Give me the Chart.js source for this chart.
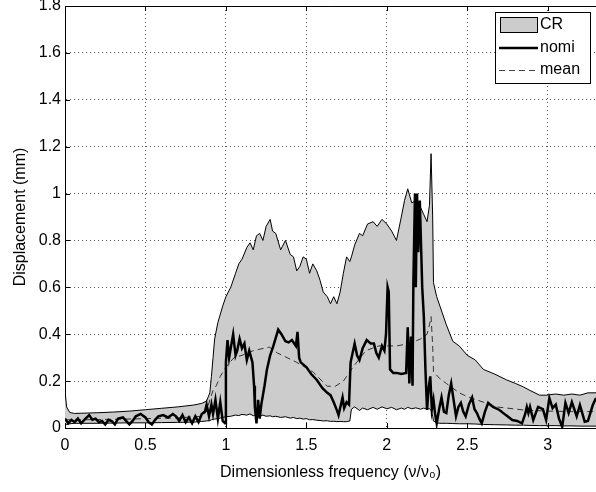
<!DOCTYPE html>
<html>
<head>
<meta charset="utf-8">
<script src="https://cdn.jsdelivr.net/npm/chart.js@4.4.0/dist/chart.umd.min.js"></script>
<style>
  html, body { margin: 0; padding: 0; background: #fff; }
  canvas { display: block; }
</style>
</head>
<body>
<canvas id="chart" width="596" height="492" style="width:596px;height:492px"></canvas>
<script>
// Ticks
const xTicks = [0, 0.5, 1, 1.5, 2, 2.5, 3];
const yTicks = [0, 0.2, 0.4, 0.6, 0.8, 1, 1.2, 1.4, 1.6, 1.8];

// CR envelope (upper / lower share the same frequencies)
const crFreq = [0, 0.01, 0.03, 0.06, 0.1, 0.2, 0.3, 0.4, 0.5, 0.6, 0.7, 0.8, 0.85, 0.88, 0.9, 0.91, 0.92, 0.93, 0.95, 0.98,
  1.0, 1.03, 1.06, 1.08, 1.1, 1.13, 1.15, 1.17, 1.19, 1.21, 1.23, 1.25, 1.275, 1.29, 1.31, 1.34, 1.37, 1.40, 1.42, 1.44,
  1.46, 1.48, 1.50, 1.52, 1.54, 1.565, 1.585, 1.605, 1.63, 1.65, 1.67, 1.69, 1.71, 1.73, 1.75, 1.77, 1.78, 1.8, 1.83, 1.85,
  1.88, 1.915, 1.94, 1.97, 2.0, 2.03, 2.06, 2.09, 2.11, 2.13, 2.155, 2.18, 2.21, 2.23, 2.25, 2.265, 2.275, 2.285, 2.29, 2.31,
  2.33, 2.37, 2.41, 2.45, 2.5, 2.55, 2.6, 2.67, 2.745, 2.8, 2.85, 2.89, 2.95, 2.99, 3.05, 3.1, 3.15, 3.2, 3.25, 3.3];
const crUpper = [0.16, 0.09, 0.066, 0.062, 0.063, 0.065, 0.068, 0.072, 0.078, 0.084, 0.09, 0.098, 0.105, 0.115, 0.15, 0.22, 0.30, 0.38, 0.45, 0.52,
  0.56, 0.60, 0.66, 0.70, 0.72, 0.77, 0.79, 0.76, 0.82, 0.83, 0.80, 0.86, 0.89, 0.84, 0.83, 0.76, 0.80, 0.74, 0.73, 0.67,
  0.69, 0.73, 0.72, 0.66, 0.70, 0.67, 0.63, 0.58, 0.56, 0.53, 0.56, 0.53, 0.58, 0.66, 0.73, 0.71, 0.73, 0.78, 0.83, 0.82,
  0.87, 0.88, 0.86, 0.89, 0.87, 0.84, 0.80, 0.90, 0.97, 1.02, 0.96, 0.97, 0.94, 0.91, 0.88, 0.95, 1.17, 0.90, 0.62, 0.56,
  0.52, 0.44, 0.37, 0.35, 0.31, 0.29, 0.25, 0.23, 0.205, 0.19, 0.175, 0.16, 0.14, 0.14, 0.145, 0.14, 0.145, 0.14, 0.15, 0.15];
const crLower = [0.01, 0.015, 0.018, 0.02, 0.02, 0.02, 0.021, 0.022, 0.022, 0.023, 0.024, 0.025, 0.028, 0.03, 0.032, 0.035, 0.037, 0.038, 0.04, 0.045,
  0.048, 0.05, 0.055, 0.053, 0.058, 0.055, 0.06, 0.052, 0.057, 0.05, 0.055, 0.05, 0.052, 0.048, 0.05, 0.045, 0.048, 0.042, 0.045, 0.04,
  0.042, 0.038, 0.04, 0.035, 0.036, 0.033, 0.032, 0.03, 0.031, 0.028, 0.029, 0.027, 0.028, 0.027, 0.027, 0.03, 0.08, 0.09, 0.075, 0.085,
  0.078, 0.088, 0.08, 0.09, 0.082, 0.088, 0.078, 0.085, 0.08, 0.088, 0.082, 0.086, 0.08, 0.085, 0.08, 0.083, 0.075, 0.05, 0.03, 0.022,
  0.02, 0.02, 0.019, 0.018, 0.018, 0.017, 0.015, 0.014, 0.013, 0.012, 0.012, 0.011, 0.01, 0.01, 0.01, 0.009, 0.009, 0.008, 0.008, 0.008];

// mean
const meanFreq = [0, 0.1, 0.3, 0.5, 0.7, 0.85, 0.88, 0.9, 0.92, 0.94, 0.965, 1.0, 1.05, 1.1, 1.17, 1.27, 1.32, 1.44, 1.54, 1.63,
  1.68, 1.73, 1.79, 1.87, 1.95, 2.06, 2.14, 2.21, 2.25, 2.265, 2.275, 2.285, 2.29, 2.33, 2.37, 2.45, 2.5, 2.6, 2.68, 2.85,
  3.0, 3.15, 3.3];
const meanVal = [0.035, 0.035, 0.037, 0.04, 0.043, 0.05, 0.07, 0.12, 0.16, 0.18, 0.22, 0.26, 0.30, 0.31, 0.33, 0.345, 0.32, 0.28, 0.24, 0.178,
  0.178, 0.2, 0.26, 0.33, 0.35, 0.35, 0.36, 0.38, 0.40, 0.44, 0.475, 0.35, 0.24, 0.21, 0.19, 0.15, 0.134, 0.11, 0.09, 0.077,
  0.072, 0.07, 0.07];

// nomi
const nomiFreq = [0, 0.02, 0.04, 0.06, 0.08, 0.1, 0.12, 0.15, 0.17, 0.19, 0.21, 0.23, 0.25, 0.27, 0.29, 0.31, 0.33, 0.36, 0.38, 0.40,
  0.42, 0.44, 0.47, 0.50, 0.52, 0.54, 0.56, 0.58, 0.61, 0.64, 0.67, 0.69, 0.71, 0.73, 0.75, 0.77, 0.79, 0.81, 0.83, 0.85,
  0.87, 0.88, 0.895, 0.91, 0.92, 0.935, 0.95, 0.965, 0.98, 0.995, 1.0, 1.01, 1.02, 1.03, 1.045, 1.06, 1.07, 1.085, 1.10, 1.115,
  1.13, 1.145, 1.165, 1.175, 1.18, 1.19, 1.20, 1.21, 1.22, 1.24, 1.255, 1.275, 1.295, 1.325, 1.345, 1.37, 1.39, 1.41, 1.435, 1.445,
  1.455, 1.465, 1.5, 1.53, 1.565, 1.6, 1.63, 1.65, 1.67, 1.69, 1.70, 1.715, 1.725, 1.735, 1.75, 1.765, 1.775, 1.80, 1.815, 1.83,
  1.85, 1.875, 1.90, 1.92, 1.935, 1.95, 1.97, 1.985, 1.995, 2.005, 2.012, 2.02, 2.04, 2.06, 2.09, 2.12, 2.13, 2.14, 2.15, 2.16,
  2.165, 2.175, 2.18, 2.188, 2.195, 2.205, 2.22, 2.23, 2.24, 2.25, 2.26, 2.27, 2.28, 2.29, 2.30, 2.31, 2.325, 2.34, 2.355, 2.37,
  2.385, 2.40, 2.415, 2.43, 2.445, 2.46, 2.475, 2.49, 2.51, 2.53, 2.545, 2.56, 2.575, 2.59, 2.61, 2.63, 2.66, 2.70, 2.74, 2.78,
  2.81, 2.84, 2.86, 2.87, 2.88, 2.89, 2.91, 2.94, 2.97, 2.99, 3.01, 3.03, 3.05, 3.07, 3.09, 3.11, 3.13, 3.15, 3.18, 3.20,
  3.23, 3.25, 3.28, 3.30];
const nomiVal = [0.04, 0.02, 0.035, 0.025, 0.04, 0.02, 0.035, 0.055, 0.035, 0.04, 0.025, 0.03, 0.015, 0.035, 0.03, 0.015, 0.04, 0.045, 0.03, 0.015,
  0.03, 0.05, 0.06, 0.045, 0.025, 0.015, 0.035, 0.05, 0.055, 0.045, 0.06, 0.05, 0.03, 0.055, 0.025, 0.045, 0.02, 0.05, 0.025, 0.06,
  0.07, 0.1, 0.05, 0.1, 0.06, 0.12, 0.04, 0.11, 0.03, 0.02, 0.28, 0.375, 0.30, 0.34, 0.40, 0.31, 0.33, 0.38, 0.34, 0.36,
  0.29, 0.33, 0.28, 0.18, 0.09, 0.02, 0.12, 0.04, 0.1, 0.18, 0.25, 0.31, 0.35, 0.42, 0.40, 0.37, 0.365, 0.375, 0.35, 0.41,
  0.30, 0.28, 0.26, 0.23, 0.205, 0.17, 0.15, 0.14, 0.11, 0.075, 0.055, 0.10, 0.13, 0.085, 0.11, 0.10, 0.28, 0.36, 0.31, 0.29,
  0.34, 0.375, 0.36, 0.36, 0.32, 0.30, 0.35, 0.33, 0.40, 0.60, 0.58, 0.25, 0.235, 0.235, 0.23, 0.235, 0.43, 0.19, 0.39, 0.18,
  0.62, 1.0, 0.6, 1.0, 0.75, 0.97, 0.6, 0.475, 0.25, 0.077, 0.17, 0.22, 0.08, 0.12, 0.06, 0.02, 0.08, 0.13, 0.07, 0.064,
  0.14, 0.19, 0.12, 0.05, 0.09, 0.107, 0.07, 0.05, 0.10, 0.13, 0.08, 0.064, 0.04, 0.02, 0.07, 0.107, 0.09, 0.077, 0.055, 0.034,
  0.03, 0.02, 0.06, 0.09, 0.064, 0.09, 0.034, 0.09, 0.08, 0.034, 0.128, 0.085, 0.1, 0.04, 0.005, 0.107, 0.064, 0.11, 0.05, 0.098,
  0.027, 0.03, 0.098, 0.128];

const pts = (xs, ys) => xs.map((x, i) => ({ x: x, y: ys[i] }));
const FONT = 'Liberation Sans, Arial, Helvetica, sans-serif';

// caja superior, marcas interiores y leyenda
const extrasPlugin = {
  id: 'extras',
  afterDraw(chart) {
    const c = chart.ctx;
    const a = chart.chartArea;
    const xs = chart.scales.x, ys = chart.scales.y;
    c.save();
    c.strokeStyle = '#000';
    c.lineWidth = 1;
    c.beginPath();
    c.moveTo(a.left, a.top + 0.5);
    c.lineTo(a.right, a.top + 0.5);
    xTicks.forEach(v => {
      const px = Math.round(xs.getPixelForValue(v)) + 0.5;
      c.moveTo(px, a.bottom); c.lineTo(px, a.bottom - 5);
      c.moveTo(px, a.top); c.lineTo(px, a.top + 5);
    });
    yTicks.forEach(v => {
      const py = Math.round(ys.getPixelForValue(v)) + 0.5;
      c.moveTo(a.left, py); c.lineTo(a.left + 5, py);
    });
    c.stroke();

    // leyenda
    const lx = 495, ly = 12, lw = 95, lh = 71;
    c.fillStyle = '#fff';
    c.fillRect(lx, ly, lw, lh);
    c.strokeRect(lx + 0.5, ly + 0.5, lw, lh);
    c.fillStyle = '#cccccc';
    c.fillRect(500, 17, 37, 15);
    c.strokeRect(500.5, 17.5, 37, 15);
    c.lineWidth = 2.5;
    c.beginPath(); c.moveTo(499, 48); c.lineTo(538, 48); c.stroke();
    c.lineWidth = 1;
    c.strokeStyle = '#444';
    c.setLineDash([6, 4]);
    c.beginPath(); c.moveTo(499, 70.5); c.lineTo(538, 70.5); c.stroke();
    c.setLineDash([]);
    c.fillStyle = '#000';
    c.font = '16px ' + FONT;
    c.textBaseline = 'middle';
    c.textAlign = 'left';
    c.fillText('CR', 540, 25);
    c.fillText('nomi', 540, 48);
    c.fillText('mean', 540, 70);
    c.restore();
  }
};

new Chart(document.getElementById('chart'), {
  type: 'line',
  data: {
    datasets: [
      {
        label: 'CR',
        data: pts(crFreq, crUpper),
        borderColor: '#000',
        borderWidth: 1,
        backgroundColor: '#cccccc',
        fill: '+1',
        pointRadius: 0,
        order: 4
      },
      {
        label: 'CR lower',
        data: pts(crFreq, crLower),
        borderColor: '#000',
        borderWidth: 1,
        fill: false,
        pointRadius: 0,
        order: 3
      },
      {
        label: 'mean',
        data: pts(meanFreq, meanVal),
        borderColor: '#333',
        borderWidth: 1,
        borderDash: [6, 4],
        fill: false,
        pointRadius: 0,
        order: 2
      },
      {
        label: 'nomi',
        data: pts(nomiFreq, nomiVal),
        borderColor: '#000',
        borderWidth: 2.5,
        fill: false,
        pointRadius: 0,
        order: 1
      }
    ]
  },
  options: {
    responsive: false,
    animation: false,
    devicePixelRatio: 1,
    layout: { padding: { top: 6, right: 0, left: 0, bottom: 0 } },
    plugins: {
      legend: { display: false },
      tooltip: { enabled: false }
    },
    elements: { line: { tension: 0 } },
    scales: {
      x: {
        type: 'linear',
        min: 0,
        max: 3.3,
        afterBuildTicks: s => { s.ticks = xTicks.map(v => ({ value: v })); },
        afterFit: s => { s.height = 64; s.paddingLeft = 0; s.paddingRight = 0; },
        grid: { color: '#555', tickLength: 0, drawTicks: false },
        border: { display: true, color: '#000', width: 1, dash: [1, 3] },
        ticks: {
          color: '#000',
          font: { family: FONT, size: 16 },
          padding: 8,
          maxRotation: 0,
          callback: v => String(v)
        },
        title: {
          display: true,
          text: 'Dimensionless frequency (ν/ν₀)',
          color: '#000',
          font: { family: FONT, size: 16 },
          padding: { top: 0, bottom: 10 }
        }
      },
      y: {
        type: 'linear',
        min: 0,
        max: 1.8,
        afterBuildTicks: s => { s.ticks = yTicks.map(v => ({ value: v })); },
        afterFit: s => { s.width = 65; s.paddingTop = 0; s.paddingBottom = 0; },
        grid: { color: '#555', drawTicks: false },
        border: { display: true, color: '#000', width: 1, dash: [1, 3] },
        ticks: {
          color: '#000',
          font: { family: FONT, size: 16 },
          padding: 4,
          callback: v => String(Math.round(v * 10) / 10)
        },
        title: {
          display: true,
          text: 'Displacement (mm)',
          color: '#000',
          font: { family: FONT, size: 16 },
          padding: { top: 11, bottom: 0 }
        }
      }
    }
  },
  plugins: [extrasPlugin]
});
</script>
</body>
</html>
